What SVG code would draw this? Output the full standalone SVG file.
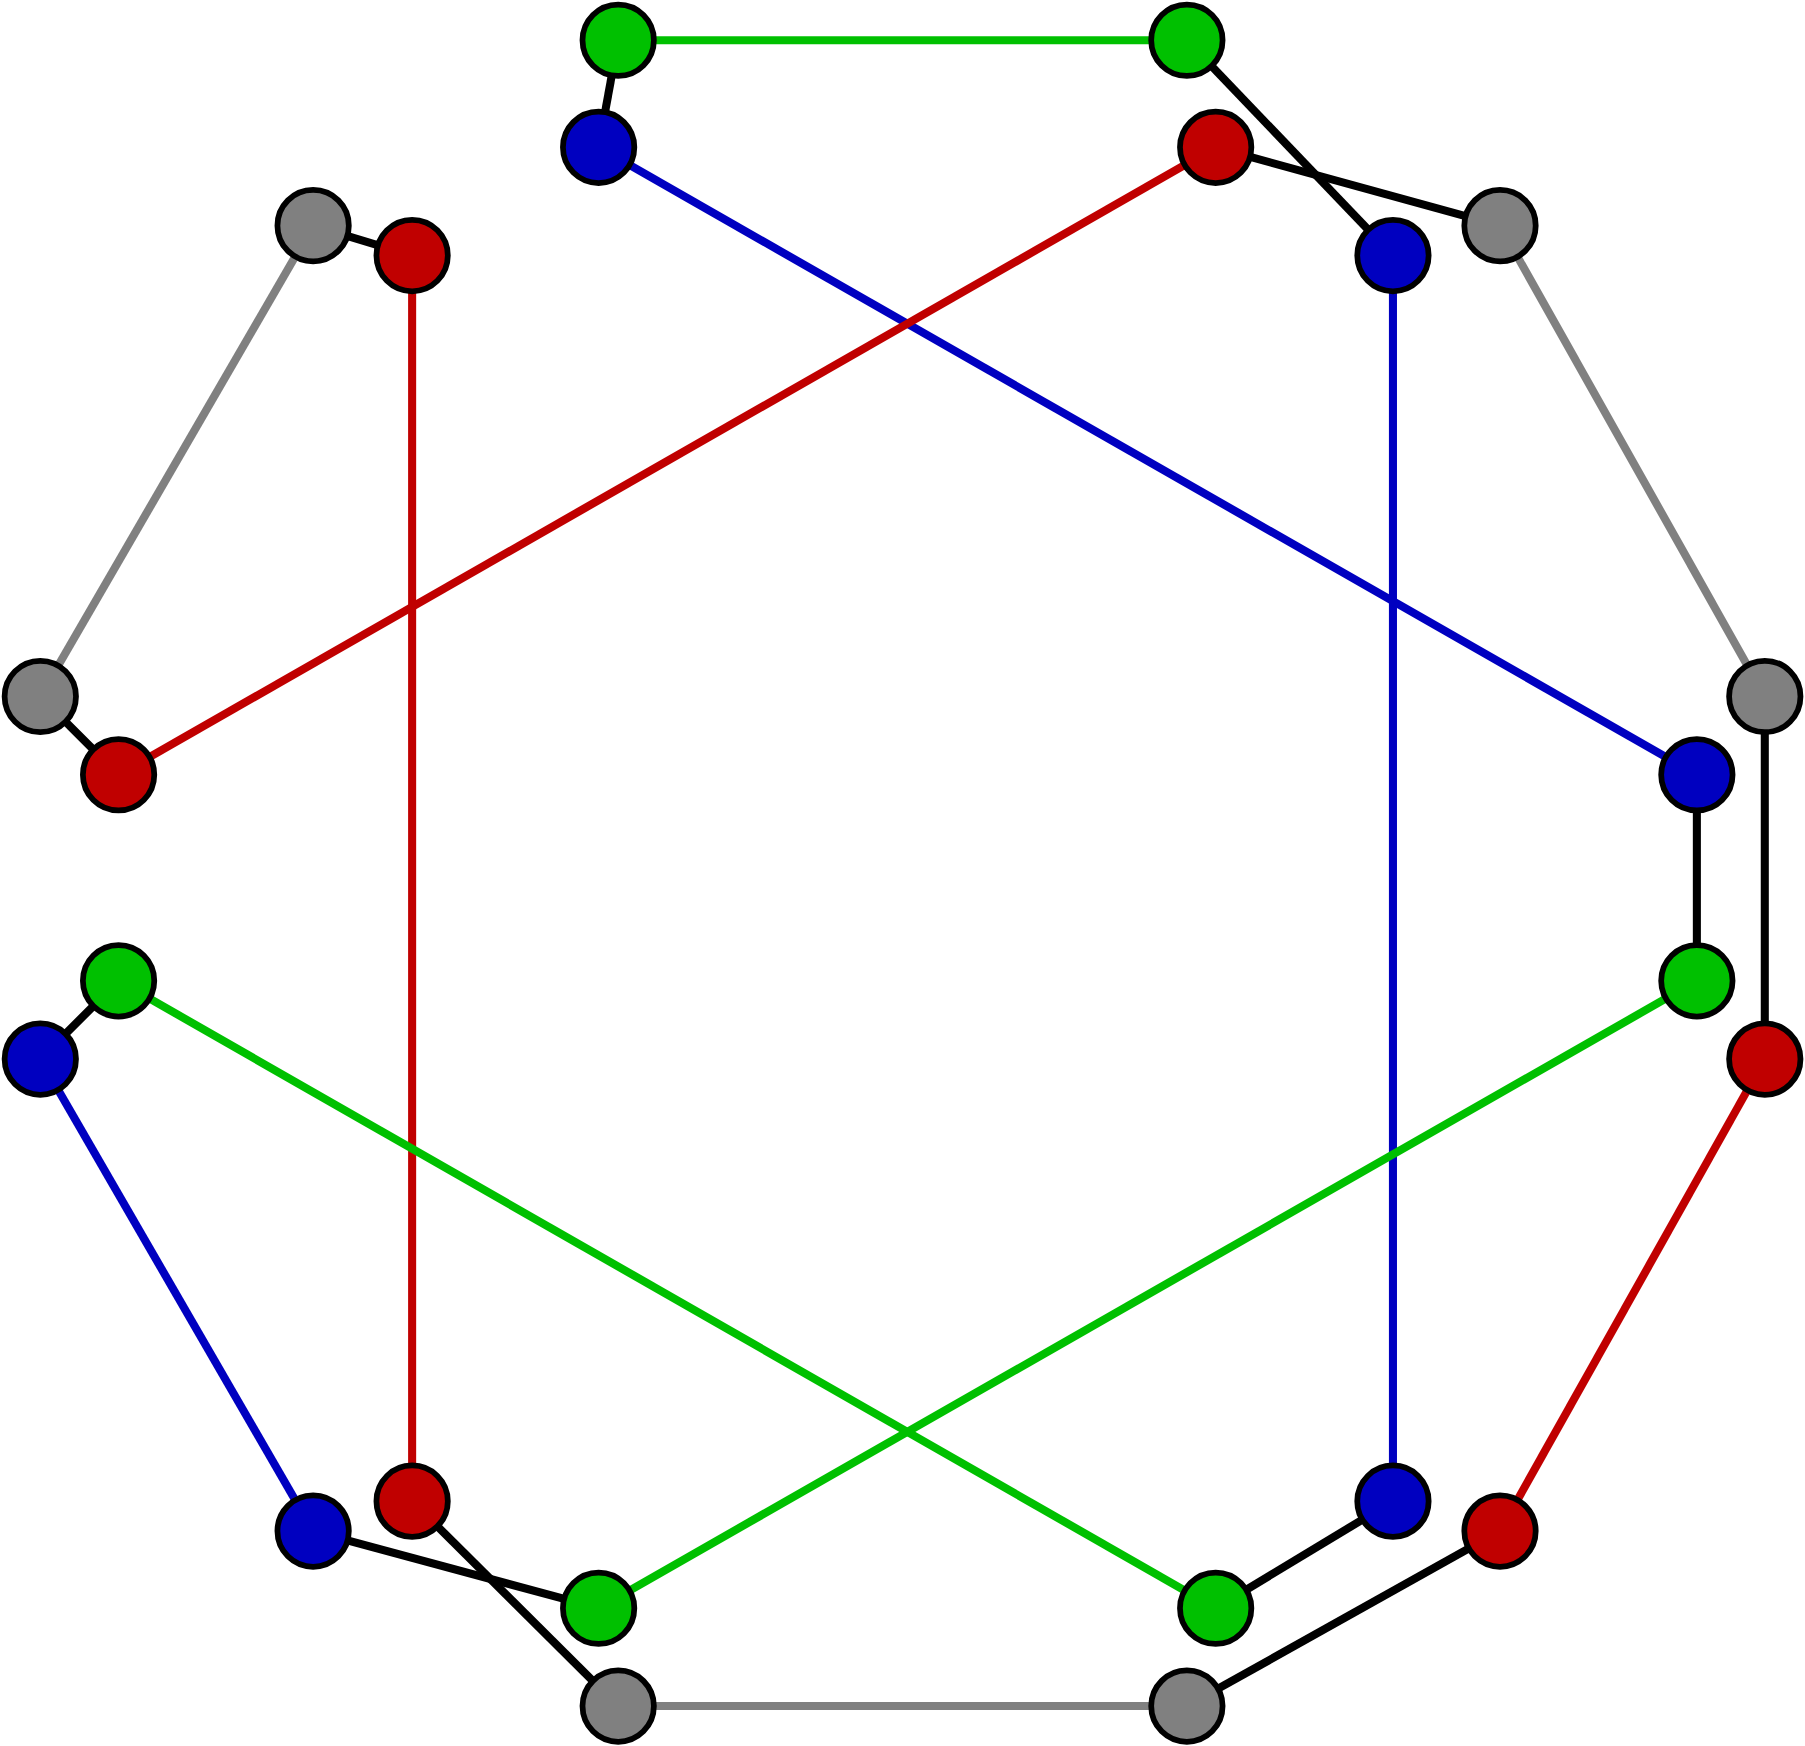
<svg xmlns="http://www.w3.org/2000/svg" width="1805" height="1746" viewBox="0 0 1805 1746">
<style>
.e{stroke-width:7;fill:none}.k{stroke:#000}.g{stroke:#00c000}.b{stroke:#0000c0}.r{stroke:#c00000}.y{stroke:#808080}
circle{stroke:#000;stroke-width:5}.ng{fill:#00c000}.nb{fill:#0000c0}.nr{fill:#c00000}.ny{fill:#808080}
</style>
<rect width="1805" height="1746" fill="#fff"/>
<g transform="scale(1.1512)">
<g id="edges">
<line class="e g" x1="537" y1="35" x2="1031" y2="35"/>
<line class="e k" x1="537" y1="35" x2="520" y2="128"/>
<line class="e k" x1="1031" y1="35" x2="1210" y2="222"/>
<line class="e k" x1="1056" y1="128" x2="1303" y2="196"/>
<line class="e b" x1="520" y1="128" x2="1474" y2="673"/>
<line class="e r" x1="1056" y1="128" x2="103" y2="673"/>
<line class="e k" x1="272" y1="196" x2="358" y2="222"/>
<line class="e y" x1="272" y1="196" x2="35" y2="605"/>
<line class="e r" x1="358" y1="222" x2="358" y2="1304"/>
<line class="e b" x1="1210" y1="222" x2="1210" y2="1304"/>
<line class="e y" x1="1303" y1="196" x2="1533" y2="605"/>
<line class="e k" x1="35" y1="605" x2="103" y2="673"/>
<line class="e k" x1="1533" y1="605" x2="1533" y2="920"/>
<line class="e k" x1="1474" y1="673" x2="1474" y2="852"/>
<line class="e k" x1="103" y1="852" x2="35" y2="920"/>
<line class="e g" x1="103" y1="852" x2="1056" y2="1397"/>
<line class="e g" x1="1474" y1="852" x2="520" y2="1397"/>
<line class="e b" x1="35" y1="920" x2="272" y2="1330"/>
<line class="e r" x1="1533" y1="920" x2="1303" y2="1330"/>
<line class="e k" x1="272" y1="1330" x2="520" y2="1397"/>
<line class="e k" x1="358" y1="1304" x2="537" y2="1482"/>
<line class="e k" x1="1210" y1="1304" x2="1056" y2="1397"/>
<line class="e k" x1="1303" y1="1330" x2="1031" y2="1482"/>
<line class="e y" x1="537" y1="1482" x2="1031" y2="1482"/>
</g>
<g id="n1"><circle class="ng" cx="537" cy="35" r="31"/></g>
<g id="n2"><circle class="ng" cx="1031" cy="35" r="31"/></g>
<g id="n3"><circle class="nb" cx="520" cy="128" r="31"/></g>
<g id="n4"><circle class="nr" cx="1056" cy="128" r="31"/></g>
<g id="n5"><circle class="ny" cx="272" cy="196" r="31"/></g>
<g id="n6"><circle class="nr" cx="358" cy="222" r="31"/></g>
<g id="n7"><circle class="nb" cx="1210" cy="222" r="31"/></g>
<g id="n8"><circle class="ny" cx="1303" cy="196" r="31"/></g>
<g id="n9"><circle class="ny" cx="35" cy="605" r="31"/></g>
<g id="n10"><circle class="nr" cx="103" cy="673" r="31"/></g>
<g id="n11"><circle class="ny" cx="1533" cy="605" r="31"/></g>
<g id="n12"><circle class="nb" cx="1474" cy="673" r="31"/></g>
<g id="n13"><circle class="ng" cx="103" cy="852" r="31"/></g>
<g id="n14"><circle class="nb" cx="35" cy="920" r="31"/></g>
<g id="n15"><circle class="ng" cx="1474" cy="852" r="31"/></g>
<g id="n16"><circle class="nr" cx="1533" cy="920" r="31"/></g>
<g id="n17"><circle class="nb" cx="272" cy="1330" r="31"/></g>
<g id="n18"><circle class="nr" cx="358" cy="1304" r="31"/></g>
<g id="n19"><circle class="nb" cx="1210" cy="1304" r="31"/></g>
<g id="n20"><circle class="nr" cx="1303" cy="1330" r="31"/></g>
<g id="n21"><circle class="ng" cx="520" cy="1397" r="31"/></g>
<g id="n22"><circle class="ng" cx="1056" cy="1397" r="31"/></g>
<g id="n23"><circle class="ny" cx="537" cy="1482" r="31"/></g>
<g id="n24"><circle class="ny" cx="1031" cy="1482" r="31"/></g>
</g>
</svg>
